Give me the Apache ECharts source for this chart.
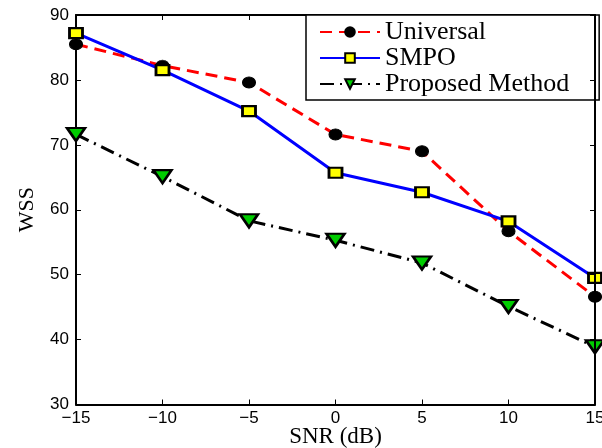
<!DOCTYPE html>
<html><head><meta charset="utf-8">
<script src="https://cdn.jsdelivr.net/npm/echarts@6/dist/echarts.min.js"></script>
<style>html,body{margin:0;padding:0;background:#fff;overflow:hidden}#c{width:602px;height:448px}</style>
</head><body><div id="c"></div>
<script>
const snr = [-15, -10, -5, 0, 5, 10, 15];
const universal = [85.5, 82.2, 79.6, 71.6, 69.0, 56.7, 46.6];
const smpo = [87.2, 81.5, 75.2, 65.7, 62.7, 58.2, 49.5];
const proposed = [71.6, 65.1, 58.3, 55.3, 51.8, 45.1, 38.9];
const xTicks = [-15, -10, -5, 0, 5, 10, 15];
const yTicks = [30, 40, 50, 60, 70, 80, 90];

const pair = (ys) => snr.map((x, i) => [x, ys[i]]);
const fmt = (v) => String(v).replace('-', '\u2212');
const chart = echarts.init(document.getElementById('c'), null, {renderer: 'canvas', width: 602, height: 448});
const serif = '"Liberation Serif", "Times New Roman", serif';
const sans = '"Liberation Sans", Arial, sans-serif';
const axisLine = {show: true, onZero: false, lineStyle: {color: '#000', width: 2}};
const tick = {inside: true, length: 5, lineStyle: {color: '#000', width: 1}};
const xMax = xTicks[xTicks.length - 1];
chart.setOption({
  animation: false,
  grid: {left: 76, right: 7, top: 15, bottom: 43.5, containLabel: false,
         outerBounds: {left: -60, right: -60, top: -60, bottom: -60}},
  xAxis: [{
    type: 'value', min: xTicks[0], max: xMax, interval: 5,
    axisLine: axisLine, axisTick: tick,
    axisLabel: {color: '#000', fontFamily: sans, fontSize: 17, margin: 5, formatter: fmt},
    splitLine: {show: false},
    name: 'SNR (dB)', nameLocation: 'middle', nameGap: 21, nameMoveOverlap: false,
    nameTextStyle: {fontFamily: serif, fontSize: 23, color: '#000'}
  }, {
    type: 'value', position: 'top', min: xTicks[0], max: xMax, interval: 5,
    axisLine: axisLine, axisTick: tick,
    axisLabel: {show: false}, splitLine: {show: false}
  }],
  yAxis: [{
    type: 'value', min: yTicks[0], max: yTicks[yTicks.length - 1], interval: 10,
    axisLine: axisLine, axisTick: tick,
    axisLabel: {color: '#000', fontFamily: sans, fontSize: 17, margin: 7, formatter: fmt},
    splitLine: {show: false},
    name: 'WSS', nameLocation: 'middle', nameGap: 38, nameRotate: 90, nameMoveOverlap: false,
    nameTextStyle: {fontFamily: serif, fontSize: 22, color: '#000'}
  }, {
    type: 'value', position: 'right', offset: 0, z: 10, min: yTicks[0], max: yTicks[yTicks.length - 1], interval: 10,
    axisLine: axisLine, axisTick: tick,
    axisLabel: {show: false}, splitLine: {show: false}
  }],
  legend: {
    left: 306, top: 15, orient: 'vertical', align: 'left',
    backgroundColor: '#fff', borderColor: '#000', borderWidth: 1.5, borderRadius: 0,
    padding: [4, 30, 3, 13], itemGap: 0, itemWidth: 60, itemHeight: 12,
    textStyle: {fontFamily: serif, fontSize: 26, color: '#000'},
    data: ['Universal', 'SMPO', 'Proposed Method']
  },
  series: [{
    name: 'Universal', type: 'line', data: pair(universal),
    lineStyle: {color: '#ff0000', width: 3, type: [12, 7]},
    symbol: 'circle', symbolSize: [13, 11],
    itemStyle: {color: '#000', borderColor: '#000', borderWidth: 1}, z: 3,
    markLine: {
      silent: true, symbol: 'none', label: {show: false},
      lineStyle: {color: '#000', width: 2, type: 'solid'},
      data: [{xAxis: xMax}]
    }
  }, {
    name: 'SMPO', type: 'line', data: pair(smpo),
    lineStyle: {color: '#0000ff', width: 3},
    symbol: 'rect', symbolSize: [13, 10],
    itemStyle: {color: '#ffff00', borderColor: '#000', borderWidth: 2.5}, z: 4
  }, {
    name: 'Proposed Method', type: 'line', data: pair(proposed),
    lineStyle: {color: '#000', width: 3, type: [14, 6, 2, 6]},
    symbol: 'triangle', symbolRotate: 180, symbolSize: [18, 13],
    itemStyle: {color: '#00cc00', borderColor: '#000', borderWidth: 2.5}, z: 5
  }]
});
</script></body></html>
